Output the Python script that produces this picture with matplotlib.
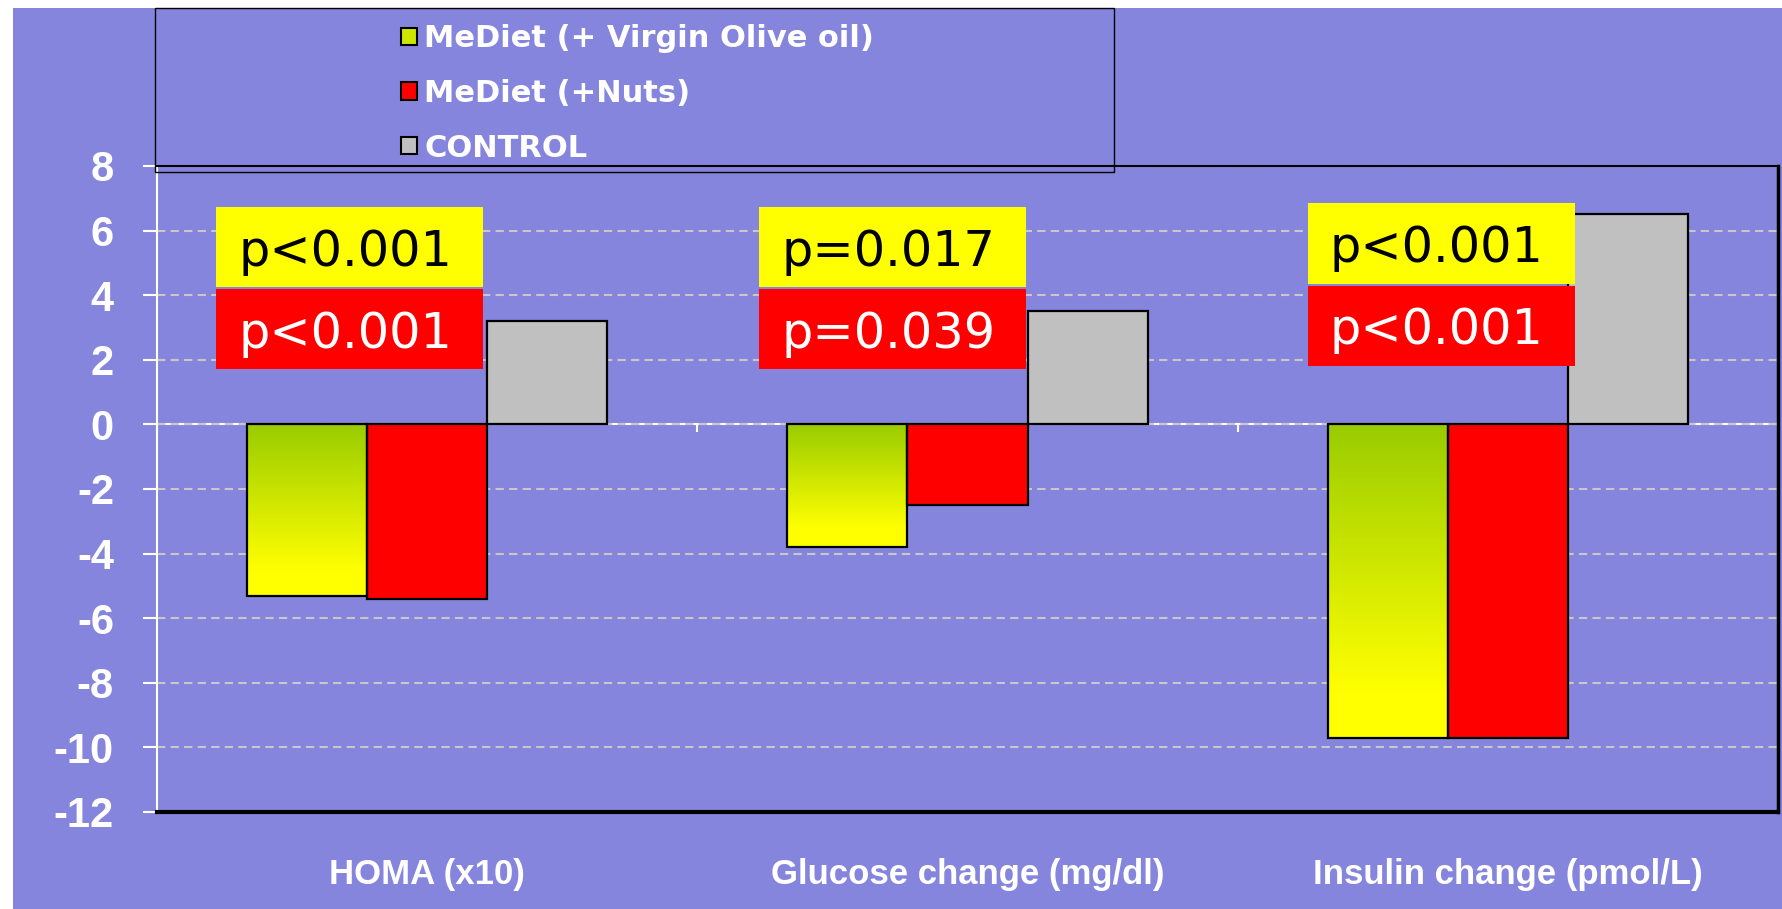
import numpy as np
import matplotlib
matplotlib.use("Agg")
import matplotlib.pyplot as plt
from matplotlib.patches import Rectangle, Patch
from matplotlib.colors import LinearSegmentedColormap

plt.rcParams["axes.unicode_minus"] = False

# ---- data ----
categories = ["HOMA (x10)", "Glucose change (mg/dl)", "Insulin change (pmol/L)"]
series_names = ["MeDiet (+ Virgin Olive oil)", "MeDiet (+Nuts)", "CONTROL"]
olive_oil = [-5.3, -3.8, -9.7]
nuts = [-5.4, -2.5, -9.7]
control = [3.2, 3.5, 6.5]
p_olive = ["p<0.001", "p=0.017", "p<0.001"]
p_nuts = ["p<0.001", "p=0.039", "p<0.001"]
yticks = list(range(-12, 9, 2))

BG = "#8585DD"
W, H, DPI = 1782, 909, 100
fig = plt.figure(figsize=(W / DPI, H / DPI), dpi=DPI, facecolor="white")
fig.patches.append(Rectangle((13 / W, 0), 1 - 13 / W, 1 - 8 / H, transform=fig.transFigure,
                             facecolor=BG, edgecolor="none", zorder=-10))

ax = fig.add_axes([157 / W, 1 - 812 / H, (1778 - 157) / W, (812 - 166) / H])
ax.set_facecolor(BG)
ax.set_xlim(-0.5, 2.5)
ax.set_ylim(-12, 8)

x = np.arange(len(categories))
bw = 0.2222

# olive oil bars with gradient
cmap = LinearSegmentedColormap.from_list("oy", [(0, "#99CC00"), (0.85, "#FFFF00"), (1, "#FFFF00")])
bars_o = ax.bar(x - bw, olive_oil, bw, facecolor="none", edgecolor="black", linewidth=1.6, zorder=4)
for b in bars_o:
    x0, y0 = b.get_x(), b.get_y()
    w, h = b.get_width(), b.get_height()
    grad = np.linspace(0, 1, 256).reshape(-1, 1)
    top, bot = max(y0, y0 + h), min(y0, y0 + h)
    im = ax.imshow(grad, extent=(x0, x0 + w, bot, top), origin="upper", cmap=cmap,
                   aspect="auto", zorder=3)
    im.set_clip_path(b)
ax.bar(x, nuts, bw, color="#FF0000", edgecolor="black", linewidth=1.6, zorder=3)
ax.bar(x + bw, control, bw, color="#C0C0C0", edgecolor="black", linewidth=1.6, zorder=3)
ax.set_aspect("auto")

# grid
ax.set_yticks(yticks)
ax.yaxis.grid(True, color="#C8C8C8", linewidth=1.5, linestyle=(0, (4, 2.5)), zorder=1)
ax.set_axisbelow(True)

ax.tick_params(axis="y", colors="white", length=10, width=1.5, pad=21, labelsize=30)
for lab in ax.get_yticklabels():
    lab.set_fontweight("bold")
    lab.set_family("Liberation Sans")

ax.set_xticks(x)
ax.set_xticklabels(categories, fontsize=25, fontweight="bold", color="white", family="Liberation Sans")
ax.tick_params(axis="x", length=0, pad=33)

ax.spines["left"].set_color("white")
ax.spines["left"].set_linewidth(1.5)
ax.spines["top"].set_color("black")
ax.spines["top"].set_linewidth(1.5)
ax.spines["right"].set_color("black")
ax.spines["right"].set_linewidth(2.5)
ax.spines["bottom"].set_color("black")
ax.spines["bottom"].set_linewidth(3)

# zero line with category boundary ticks
sec = ax.secondary_xaxis(0, transform=ax.transData)
sec.set_xticks(np.arange(-0.5, len(categories), 1.0))
sec.tick_params(direction="out", length=6, width=1.5, color="white", labelbottom=False)
sec.spines["bottom"].set_color("white")
sec.spines["bottom"].set_linewidth(1.5)

# p-value boxes
box_left = [-0.39, -0.385, -0.37]
box_top = [6.72, 6.72, 6.84]
bxw, bxh, gap = 0.494, 2.48, 0.06
for i in range(len(categories)):
    xl = x[i] + box_left[i]
    yt = box_top[i]
    ax.add_patch(Rectangle((xl, yt - bxh), bxw, bxh, facecolor="#FFFF00", edgecolor="none", zorder=6))
    ax.add_patch(Rectangle((xl, yt - 2 * bxh - gap), bxw, bxh, facecolor="#FF0000", edgecolor="none", zorder=6))
    ax.text(xl + 0.040, yt - bxh / 2 - 0.57, p_olive[i], fontsize=35.5, color="black",
            family="DejaVu Sans", va="baseline", ha="left", zorder=7)
    ax.text(xl + 0.040, yt - 1.5 * bxh - gap - 0.57, p_nuts[i], fontsize=35.5, color="white",
            family="DejaVu Sans", va="baseline", ha="left", zorder=7)

# legend box
fig.patches.append(Rectangle((155 / W, 1 - 172 / H), (1114 - 155) / W, (172 - 8) / H,
                             transform=fig.transFigure, facecolor="none", edgecolor="black",
                             linewidth=1.0, zorder=5))
handles = [Patch(facecolor="#CCE600", edgecolor="black", linewidth=1.5),
           Patch(facecolor="#FF0000", edgecolor="black", linewidth=1.5),
           Patch(facecolor="#C0C0C0", edgecolor="black", linewidth=1.5)]
leg = fig.legend(handles, series_names, loc="upper left", bbox_to_anchor=(386 / W, 1 - 9 / H),
                 frameon=False, borderpad=0, handlelength=0.5, handleheight=0.5,
                 handletextpad=0.25, labelspacing=0.84,
                 prop={"family": "DejaVu Sans", "weight": "bold", "size": 22})
for t in leg.get_texts():
    t.set_color("white")

fig.savefig("out.png", dpi=DPI, facecolor=fig.get_facecolor())
